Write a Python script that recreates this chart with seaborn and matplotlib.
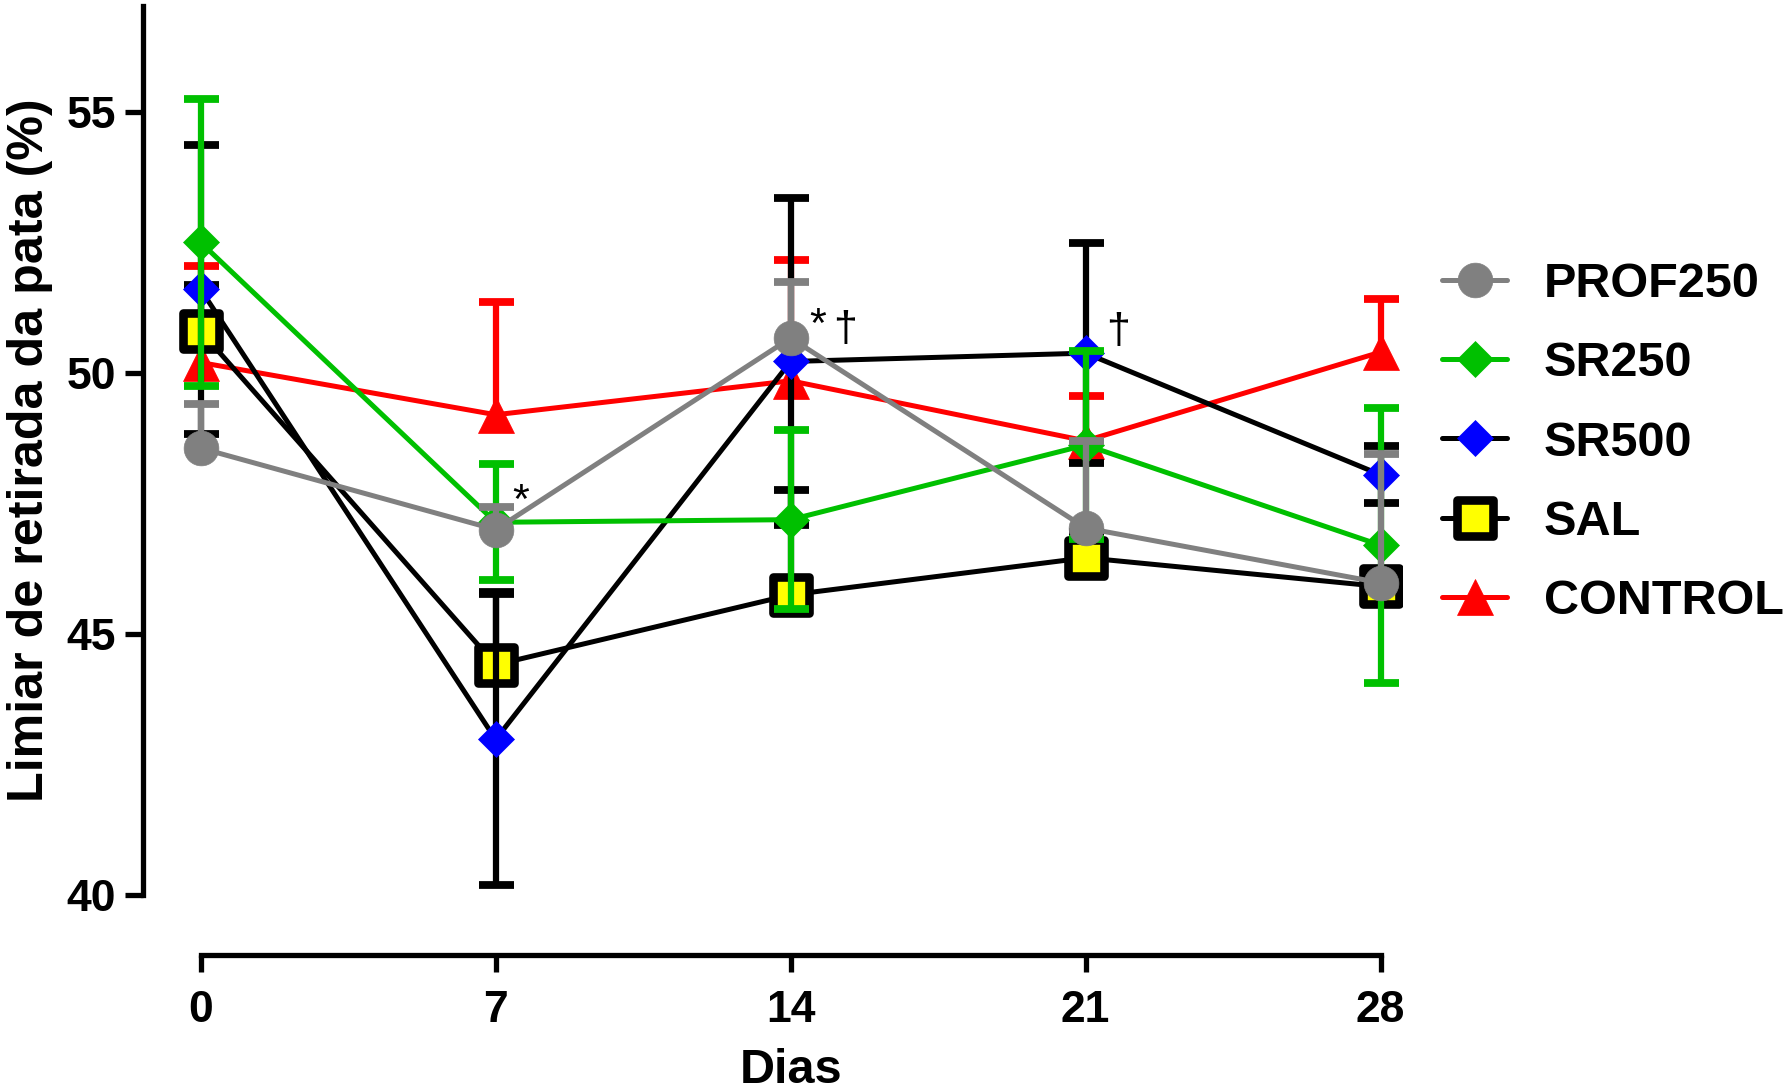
import numpy as np
import pandas as pd
import matplotlib
matplotlib.use("Agg")
import matplotlib.pyplot as plt
import seaborn as sns
from matplotlib.markers import MarkerStyle

# ---------------- data ----------------
days = [0, 7, 14, 21, 28]
day_labels = ["0", "7", "14", "21", "28"]
legend_order = ["PROF250", "SR250", "SR500", "SAL", "CONTROL"]

prof250_mean = [48.56, 47.00, 50.67, 47.03, 45.98]
prof250_err_lo = [0.0, 0.0, 0.0, 0.0, 0.0]
prof250_err_up = [0.84, 0.43, 1.08, 1.66, 2.47]

sr250_mean = [52.50, 47.14, 47.19, 48.62, 46.70]
sr250_err_lo = [2.75, 1.11, 1.72, 1.80, 2.63]
sr250_err_up = [2.75, 1.11, 1.72, 1.80, 2.63]

sr500_mean = [51.60, 42.98, 50.22, 50.38, 48.05]
sr500_err_lo = [2.76, 2.78, 3.14, 2.11, 0.55]
sr500_err_up = [2.76, 2.78, 3.14, 2.11, 0.55]

sal_mean = [50.80, 44.41, 45.75, 46.46, 45.91]
sal_err_lo = [0.0, 0.0, 0.0, 0.0, 0.0]
sal_err_up = [0.88, 1.39, 2.01, 0.50, 0.30]

control_mean = [50.20, 49.20, 49.85, 48.70, 50.40]
control_err_lo = [0.0, 0.0, 0.0, 0.0, 0.0]
control_err_up = [1.85, 2.16, 2.32, 0.85, 1.01]

# annotations: (text, series, day index, dx pt, dy pt)
annotations = [("*", "PROF250", 1, 18, 20),
               ("*", "PROF250", 2, 19.5, 8.5),
               ("\u2020", "PROF250", 2, 39.5, 6),
               ("\u2020", "SR500", 3, 23, 15)]

# ---------------- style ----------------
sns.set_style("ticks")
plt.rcParams["font.family"] = ["Liberation Sans", "DejaVu Sans"]
plt.rcParams["font.weight"] = "bold"
plt.rcParams["text.color"] = "black"
plt.rcParams["axes.labelcolor"] = "black"
plt.rcParams["xtick.color"] = "black"
plt.rcParams["ytick.color"] = "black"

series = {
    "PROF250": dict(mean=prof250_mean, lo=prof250_err_lo, up=prof250_err_up,
                    line="#808080", ecol="#808080", marker="o", ms=25,
                    mfc="#808080", mec="#808080", mew=0.5),
    "SR250": dict(mean=sr250_mean, lo=sr250_err_lo, up=sr250_err_up,
                  line="#00C000", ecol="#00C000", marker="D", ms=18,
                  mfc="#00C000", mec="#00C000", mew=0.5),
    "SR500": dict(mean=sr500_mean, lo=sr500_err_lo, up=sr500_err_up,
                  line="#000000", ecol="#000000", marker="D", ms=18,
                  mfc="#0000FF", mec="#0000FF", mew=0.5),
    "SAL": dict(mean=sal_mean, lo=sal_err_lo, up=sal_err_up,
                line="#000000", ecol="#000000",
                marker=MarkerStyle("s", joinstyle="round"), ms=26,
                mfc="#FFFF00", mec="#000000", mew=6.2),
    "CONTROL": dict(mean=control_mean, lo=control_err_lo, up=control_err_up,
                    line="#FF0000", ecol="#FF0000", marker="^", ms=26,
                    mfc="#FF0000", mec="#FF0000", mew=0.5),
}
draw_order = ["CONTROL", "SAL", "SR500", "SR250", "PROF250"]

W, H = 1791, 1092
fig = plt.figure(figsize=(W / 100, H / 100), dpi=100)
xmin, xmax = -1.381, 28.5
ymin, ymax = 40.0, 57.03
ax_left = 142.5 / W
ax_w = (200.7 + xmax * 42.14 - 142.5) / W
ax_bottom = 1 - 895.0 / H
ax_h = (895.0 - 6.0) / H
ax = fig.add_axes([ax_left, ax_bottom, ax_w, ax_h])

for i, name in enumerate(draw_order):
    s = series[name]
    z = 3 + 3 * i
    mean = np.array(s["mean"])
    lo = mean - np.array(s["lo"])
    up = mean + np.array(s["up"])
    d = np.array(days)
    # error bar stems
    ax.vlines(d, lo, up, colors=s["ecol"], linewidth=4.5, zorder=z)
    # caps
    ax.plot(d, up, linestyle="none", marker="_", markersize=25.2,
            markeredgewidth=5.6, color=s["ecol"], zorder=z)
    has_lo = np.array(s["lo"]) > 0
    if has_lo.any():
        ax.plot(d[has_lo], lo[has_lo], linestyle="none", marker="_",
                markersize=25.2, markeredgewidth=5.6, color=s["ecol"], zorder=z)
    df = pd.DataFrame({"Dias": days, "val": s["mean"]})
    sns.lineplot(data=df, x="Dias", y="val", ax=ax, color=s["line"],
                 linewidth=3.6, marker=s["marker"], markersize=s["ms"],
                 markerfacecolor=s["mfc"], markeredgecolor=s["mec"],
                 markeredgewidth=s["mew"], label=name, zorder=z + 1)

h, l = ax.get_legend_handles_labels()
hmap = dict(zip(l, h))
if ax.get_legend() is not None:
    ax.get_legend().remove()

ax.set_xlim(xmin, xmax)
ax.set_ylim(ymin, ymax)
ax.set_xticks(days)
ax.set_xticklabels(day_labels)
ax.set_yticks([40, 45, 50, 55])

for sp in ["top", "right"]:
    ax.spines[sp].set_visible(False)
for sp in ["left", "bottom"]:
    ax.spines[sp].set_linewidth(3.8)
    ax.spines[sp].set_color("black")
ax.spines["bottom"].set_position(("outward", 43.2))
ax.spines["bottom"].set_bounds(days[0], days[-1])

ax.tick_params(axis="y", direction="out", length=13, width=3.8, pad=6,
               labelsize=32, colors="black")
ax.tick_params(axis="x", direction="out", length=12, width=3.8, pad=13,
               labelsize=32, colors="black")
for t in ax.get_xticklabels() + ax.get_yticklabels():
    t.set_fontweight("bold")
    t.set_color("black")

ax.set_xlabel("Dias", fontsize=35, fontweight="bold", labelpad=12.5,
              color="black")
ax.xaxis.label.set_x((14 - xmin) / (xmax - xmin))
ax.set_ylabel("Limiar de retirada da pata (%)", fontsize=36.2,
              fontweight="bold", labelpad=10, color="black")

means = {k: v["mean"] for k, v in series.items()}
for txt, name, idx, dx, dy in annotations:
    ax.annotate(txt, xy=(days[idx], means[name][idx]), xytext=(dx, dy),
                textcoords="offset points", ha="center", va="center",
                fontsize=31, fontweight="normal", color="black", zorder=30)

leg = fig.legend([hmap[n] for n in legend_order], legend_order,
                 loc="center left", bbox_to_anchor=(1441.7 / W, 1 - 443.0 / H),
                 frameon=False, borderpad=0, borderaxespad=0,
                 handlelength=1.35, handletextpad=0.75, labelspacing=0.70,
                 prop={"size": 35, "weight": "bold"})
for t in leg.get_texts():
    t.set_color("black")

fig.savefig("out.png", dpi=100, facecolor="white")
